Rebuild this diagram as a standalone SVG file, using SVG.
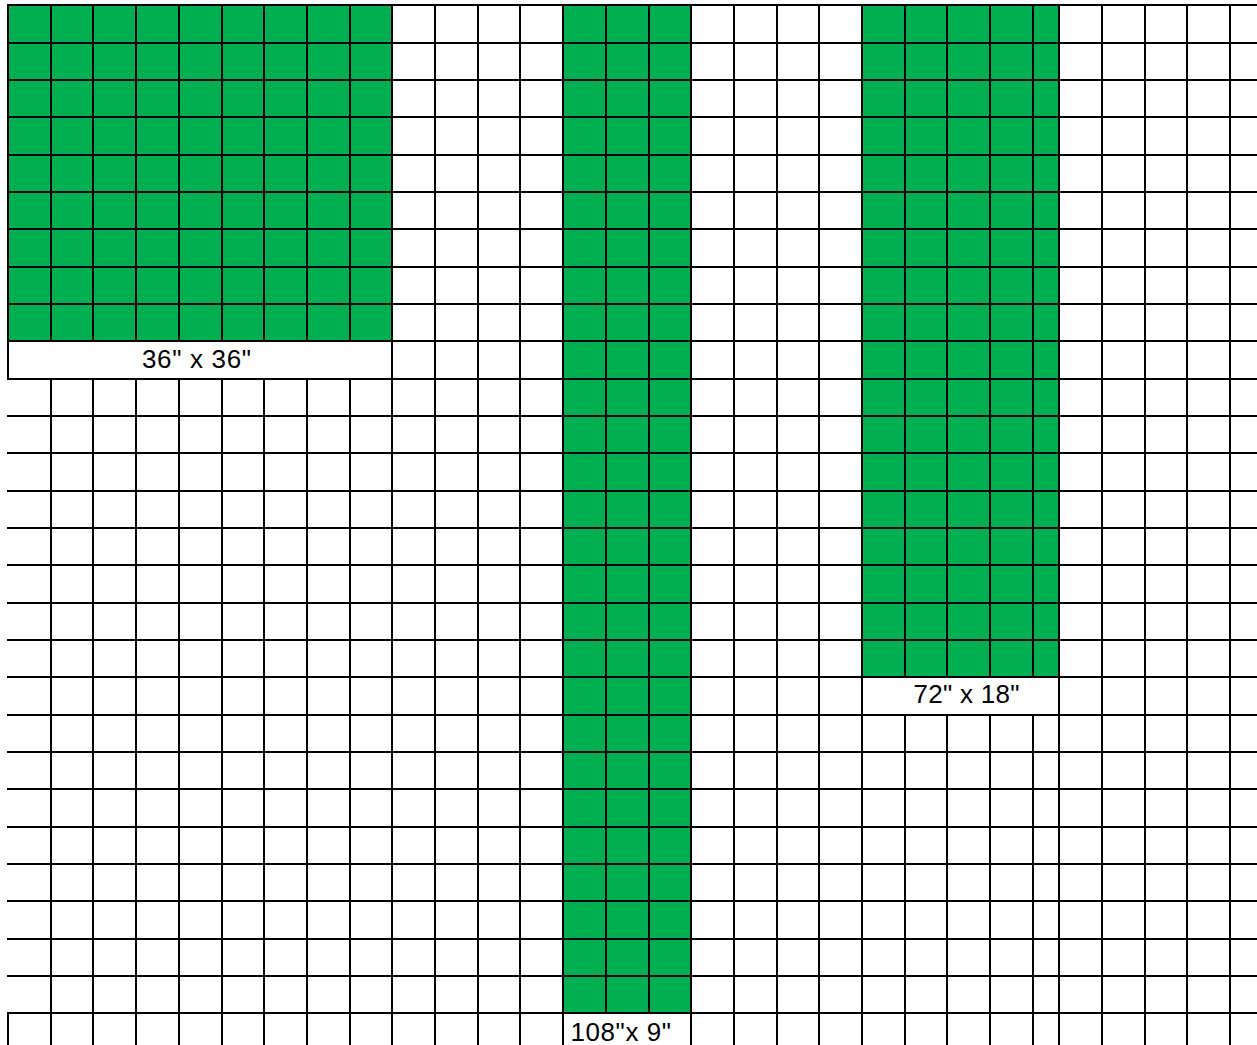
<svg xmlns="http://www.w3.org/2000/svg" width="1257" height="1045" viewBox="0 0 1257 1045">
<style>
.green{fill:#00B050}
.lbl{fill:#fff}
.grid{stroke:#000;stroke-width:2;fill:none}
.t{font-family:"Liberation Sans",Arial,sans-serif;font-size:26px;fill:#000}
</style>
<rect x="0" y="0" width="1257" height="1045" fill="#fff"/>
<g id="block-36x36">
<rect class="green" x="8" y="5" width="384" height="336"/>
<rect class="lbl" x="8" y="341" width="384" height="38"/>
</g>
<g id="block-108x9">
<rect class="green" x="563" y="5" width="128" height="1008"/>
<rect class="lbl" x="563" y="1013" width="128" height="32"/>
</g>
<g id="block-72x18">
<rect class="green" x="862" y="5" width="197" height="672"/>
<rect class="lbl" x="862" y="677" width="197" height="38"/>
</g>
<g id="connectors-grid">
<path class="grid" d="M7 5H1257M7 43H1257M7 80H1257M7 117H1257M7 155H1257M7 192H1257M7 229H1257M7 267H1257M7 304H1257M7 341H1257M7 379H1257M7 416H1257M7 453H1257M7 491H1257M7 528H1257M7 565H1257M7 603H1257M7 640H1257M7 677H1257M7 715H1257M7 752H1257M7 789H1257M7 827H1257M7 864H1257M7 901H1257M7 939H1257M7 976H1257M7 1013H1257"/>
<path class="grid" d="M8 4V379M8 1013V1045
M51 4V341M51 379V1045
M93 4V341M93 379V1045
M136 4V341M136 379V1045
M179 4V341M179 379V1045
M222 4V341M222 379V1045
M264 4V341M264 379V1045
M307 4V341M307 379V1045
M350 4V341M350 379V1045
M392 4V1045M435 4V1045M478 4V1045M520 4V1045M563 4V1045
M606 4V1013M649 4V1013
M691 4V1045M734 4V1045M777 4V1045M819 4V1045M862 4V1045
M905 4V677M905 715V1045
M947 4V677M947 715V1045
M990 4V677M990 715V1045
M1033 4V677M1033 715V1045
M1059 4V1045M1102 4V1045M1145 4V1045M1187 4V1045M1230 4V1045"/>
</g>
<text class="t" x="142" y="368" textLength="109">36" x 36"</text>
<text class="t" x="913.5" y="703" textLength="106">72" x 18"</text>
<text class="t" x="570.5" y="1040.5" textLength="100.5">108"x 9"</text>
</svg>
